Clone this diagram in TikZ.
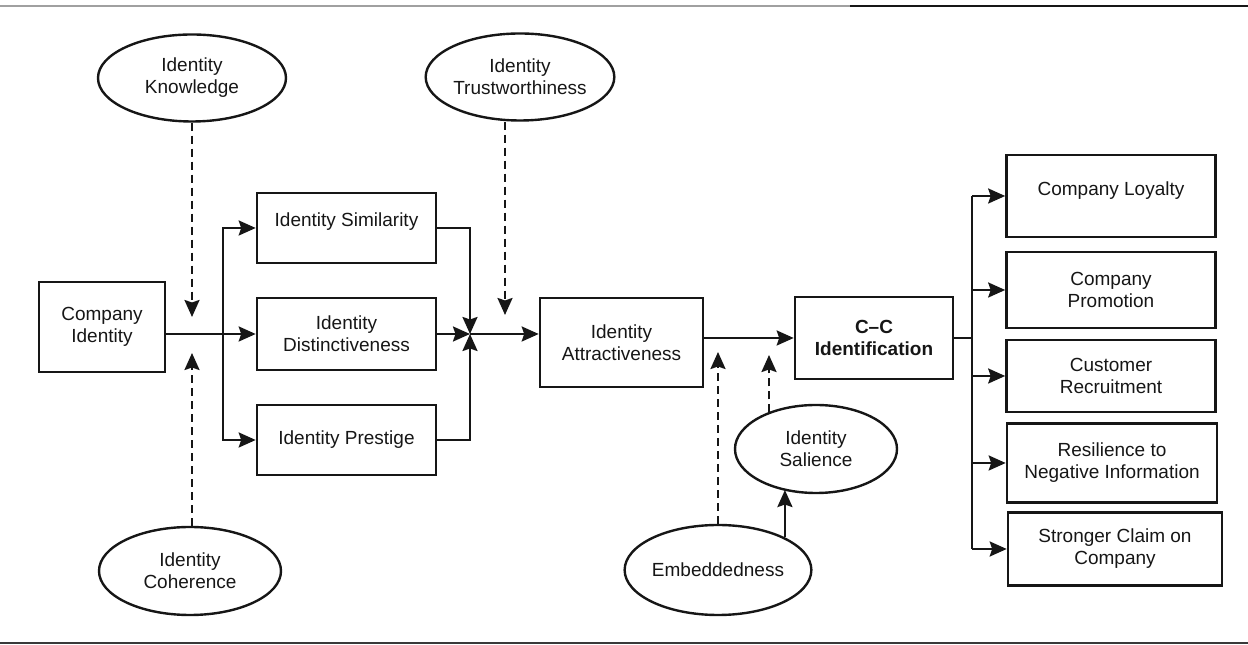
\documentclass[tikz,border=0pt]{standalone}
\usepackage{fontspec}
\setmainfont{Liberation Sans}
\usepackage{tikz}
\usetikzlibrary{arrows.meta,positioning,shapes.geometric,calc}
\definecolor{ccInk}{RGB}{22,22,22}
\definecolor{ruleGray}{RGB}{160,160,160}

\begin{document}
\begin{tikzpicture}[x=1pt,y=1pt,
    every node/.style={font=\fontsize{19}{22}\selectfont, text=ccInk},
    box/.style={draw=ccInk, line width=2.6pt, rectangle, align=center, inner sep=2pt},
    oval/.style={draw=ccInk, line width=2.4pt, ellipse, align=center, inner sep=0pt},
    link/.style={draw=ccInk, line width=2.4pt},
    arr/.style={link, -{Stealth[length=17pt,width=15pt,inset=2.5pt]}},
    dasharr/.style={arr, dash pattern=on 8pt off 5pt}]
    \useasboundingbox (0,0) rectangle (1248,645);

    % rules
    \draw[ruleGray, line width=1.5pt] (0,639)--(850,639);
    \draw[ccInk, line width=1.5pt] (850,639)--(1248,639);
    \draw[ccInk!85, line width=2pt] (0,2)--(1248,2);

    % moderators
    \node[oval, minimum width=188pt, minimum height=87pt] (know) at (192,567) {Identity\\Knowledge};
    \node[oval, minimum width=184pt, minimum height=87pt] (trust) at (520,568) {Identity\\Trustworthiness};
    \node[oval, minimum width=182pt, minimum height=88pt] (coh) at (190,74) {Identity\\Coherence};
    \node[oval, minimum width=179pt, minimum height=90pt] (emb) at (718,75) {Embeddedness};
    \node[oval, minimum width=162pt, minimum height=88pt] (sal) at (816,196) {Identity\\Salience};

    % chain
    \node[box, minimum width=126pt, minimum height=90pt] (comp) at (102,318) {Company\\Identity};
    \node[box, minimum width=179pt, minimum height=70pt, text height=14pt, text depth=16pt] (sim) at (346.5,417) {Identity Similarity};
    \node[box, minimum width=179pt, minimum height=72pt] (dist) at (346.5,311) {Identity\\Distinctiveness};
    \node[box, minimum width=179pt, minimum height=70pt] (pres) at (346.5,205) {Identity Prestige};
    \node[box, minimum width=163pt, minimum height=89pt] (attr) at (621.5,302.5) {Identity\\Attractiveness};
    \node[box, minimum width=158pt, minimum height=82pt, font=\fontsize{19}{22}\selectfont\bfseries] (cc) at (874,307) {C–C\\Identification};

    % outcomes
    \node[box, minimum width=209pt, minimum height=82pt, text height=14pt, text depth=15pt] (loy) at (1111,449) {Company Loyalty};
    \node[box, minimum width=209pt, minimum height=76pt] (prom) at (1111,355) {Company\\Promotion};
    \node[box, minimum width=209pt, minimum height=72pt] (rec) at (1111,269) {Customer\\Recruitment};
    \node[box, minimum width=210pt, minimum height=79pt] (res) at (1112,182) {Resilience to\\Negative Information};
    \node[box, minimum width=214pt, minimum height=73pt] (str) at (1115,96) {Stronger Claim on\\Company};

    % junctions and arrow ends
    \coordinate (split) at (223,311);
    \coordinate (join) at (470,311);
    \coordinate (bus) at (972,307);
    \coordinate (kT) at (192,328);
    \coordinate (cT) at (192,292);
    \coordinate (tT) at (505,330);
    \coordinate (eT) at (718,293);
    \coordinate (sT) at (769,290);

    % solid links
    \draw[link] (comp.east |- split)--(split);
    \draw[arr] (split) |- (sim.west);
    \draw[arr] (split)--(dist.west |- split);
    \draw[arr] (split) |- (pres.west);
    \draw[arr] (sim.east) -| (join);
    \draw[arr] (pres.east) -| (join);
    \draw[arr] (dist.east |- join)--(join);
    \draw[arr] (join)--(attr.west |- join);
    \draw[arr] (attr.east |- cc.west)--(cc.west);
    \draw[link] (cc.east)--(cc.east -| bus);
    \draw[link] (bus |- loy.west)--(bus |- str.west);
    \foreach \o in {loy,prom,rec,res,str}
        \draw[arr] (bus |- \o.west)--(\o.west);
    \draw[arr] (emb.26)--(emb.26 |- sal.230);

    % dashed moderators
    \draw[dasharr] (know.south)--(kT);
    \draw[dasharr] (cT |- coh.north)--(cT);
    \draw[dasharr] (tT |- trust.south)--(tT);
    \draw[dasharr] (emb.north)--(eT);
    \draw[dasharr] (sT |- sal.143)--(sT);
\end{tikzpicture}
\end{document}
